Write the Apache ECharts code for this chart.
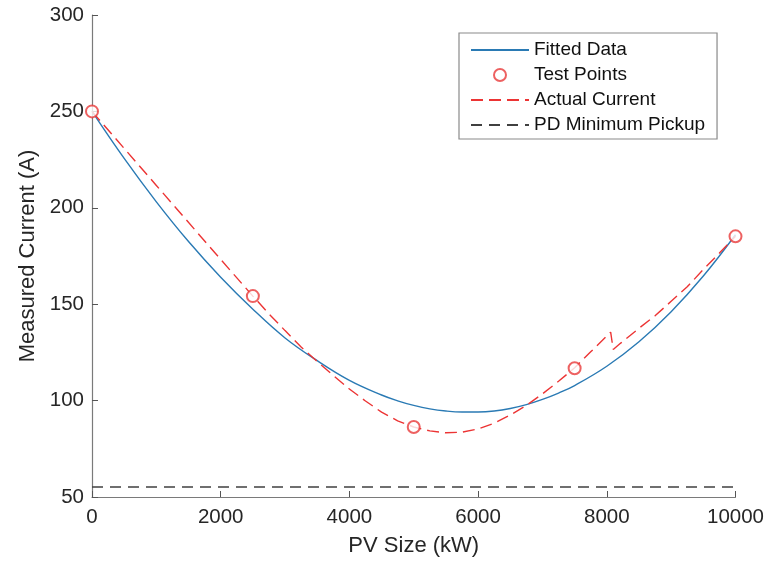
<!DOCTYPE html>
<html>
<head>
<meta charset="utf-8">
<script src="https://cdn.jsdelivr.net/npm/echarts@6/dist/echarts.min.js"></script>
<style>
html,body{margin:0;padding:0;background:#fff;}
#chart{width:767px;height:565px;}
</style>
</head>
<body>
<div id="chart"></div>
<script>
// Fitted curve
const fittedX = [0,500,1000,1500,2000,2500,3000,3500,4000,4500,4750,5000,5250,5500,5750,6000,6250,6500,6750,7000,7250,7500,8000,8500,9000,9500,10000];
const fittedY = [250,225.6,203.1,182.5,164.0,147.4,132.5,120.7,110.5,102.9,99.9,97.5,95.7,94.6,94.1,94.1,94.6,95.9,97.9,100.6,103.9,107.8,117.8,130.5,146.1,164.6,186];

// Test points
const testX = [0,2500,5000,7500,10000];
const testY = [250,154.2,86.3,116.8,185.2];

// Actual current
const actualX = [0,1000,2000,2500,2750,3000,3250,3500,3750,4000,4250,4500,4750,5000,5250,5500,5750,6000,6250,6500,6750,7000,7250,7500,7750,8060,8100,8212,8500,8750,9000,9250,9500,9750,10000];
const actualY = [250,211.6,173.2,154.2,145,136.3,127.8,120.3,113,106,99.8,94,89.5,86.3,84.3,83.3,83.6,85.3,88.3,92.5,97.5,103.5,110,117,125.3,135.5,126.5,129.7,137.5,144,151.5,159,168,176.5,185.2];

// PD minimum pickup
const pickupX = [0,10000];
const pickupY = [55.2,55.2];

const xTicks = {min:0,max:10000,interval:2000};
const yTicks = {min:50,max:300,interval:50};

const zip = (xs, ys) => xs.map((x,i)=>[x, ys[i]]);

const font = 'Liberation Sans, Arial, Helvetica, sans-serif';
const chart = echarts.init(document.getElementById('chart'));
chart.setOption({
  animation:false,
  backgroundColor:'#fff',
  grid:{left:92,right:30,top:15,bottom:68,containLabel:false},
  xAxis:{
    type:'value',min:xTicks.min,max:xTicks.max,interval:xTicks.interval,
    name:'PV Size (kW)',nameLocation:'middle',nameGap:38,
    nameTextStyle:{fontFamily:font,fontSize:22,color:'#262626'},
    axisLine:{show:true,lineStyle:{color:'#7a7a7a',width:1.2}},
    axisTick:{show:true,inside:true,length:6,lineStyle:{color:'#555'}},
    axisLabel:{fontFamily:font,fontSize:20.5,color:'#262626',margin:10,formatter:v=>String(v)},
    splitLine:{show:false}
  },
  yAxis:{
    type:'value',min:yTicks.min,max:yTicks.max,interval:yTicks.interval,
    name:'Measured Current (A)',nameLocation:'middle',nameGap:52,
    nameTextStyle:{fontFamily:font,fontSize:22,color:'#262626'},
    axisLine:{show:true,lineStyle:{color:'#7a7a7a',width:1.2}},
    axisTick:{show:true,inside:true,length:6,lineStyle:{color:'#555'}},
    axisLabel:{fontFamily:font,fontSize:20.5,color:'#262626',margin:8,formatter:v=>String(v)},
    splitLine:{show:false}
  },
  legend:{
    orient:'vertical',left:459,top:33,
    padding:[7,12,4,11],
    itemWidth:58,itemHeight:12,itemGap:5,
    borderColor:'#8a8a8a',borderWidth:1.2,backgroundColor:'#fff',
    textStyle:{fontFamily:font,fontSize:19,color:'#111',lineHeight:20},
    data:[
      {name:'Fitted Data',itemStyle:{opacity:0}},
      {name:'Test Points'},
      {name:'Actual Current',itemStyle:{opacity:0}},
      {name:'PD Minimum Pickup',itemStyle:{opacity:0}}
    ]
  },
  series:[
    {
      name:'Fitted Data',type:'line',smooth:0.4,symbol:'none',
      data:zip(fittedX,fittedY),
      lineStyle:{color:'#2a7ab4',width:1.4},itemStyle:{color:'#2a7ab4'},z:2
    },
    {
      name:'Test Points',type:'scatter',symbol:'emptyCircle',symbolSize:12,
      data:zip(testX,testY),
      itemStyle:{color:'#e83a3a',borderColor:'#e83a3a',borderWidth:1.2},z:4
    },
    {
      name:'Actual Current',type:'line',smooth:false,symbol:'none',
      data:zip(actualX,actualY),
      lineStyle:{color:'#ec3434',width:1.4,type:[12,6]},itemStyle:{color:'#ec3434'},z:3
    },
    {
      name:'PD Minimum Pickup',type:'line',symbol:'none',
      data:zip(pickupX,pickupY),
      lineStyle:{color:'#404040',width:1.5,type:[11,7]},itemStyle:{color:'#404040'},z:3
    }
  ]
});
</script>
</body>
</html>
